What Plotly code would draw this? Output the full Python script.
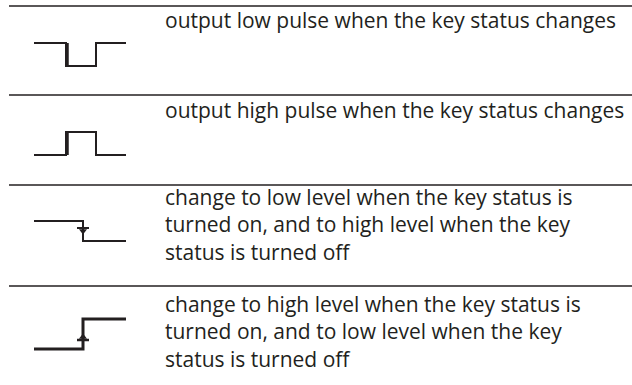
import plotly.graph_objects as go

W, H = 632, 385

# Row separator lines (y positions, px from top)
separator_y = [6, 95, 185, 286]
sep_x = [9, 632]

# Descriptions
descriptions = [
    "output low pulse when the key status changes",
    "output high pulse when the key status changes",
    "change to low level when the key status is<br>turned on, and to high level when the key<br>status is turned off",
    "change to high level when the key status is<br>turned on, and to low level when the key<br>status is turned off",
]
desc_y = [20, 110, 224, 331]
desc_x = 163

# Waveform icons (x, y in px)
wave1_x = [34, 66, 66, 96, 96, 126]
wave1_y = [43, 43, 66, 66, 43, 43]
wave2_x = [34, 66, 66, 96, 96, 126]
wave2_y = [155, 155, 132, 132, 155, 155]
wave3_x = [34, 83, 83, 126]
wave3_y = [221, 221, 241, 241]
wave4_x = [34, 83, 83, 126]
wave4_y = [349, 349, 319, 319]

# Thick edges
edge1_x = [67, 67]; edge1_y = [43, 66]
edge2_x = [67, 67]; edge2_y = [132, 155]

# Key markers
tick3_x = [77, 89]; tick3_y = [228, 228]
mark3_x = [83]; mark3_y = [231]
tick4_x = [77, 89]; tick4_y = [340, 340]
mark4_x = [83]; mark4_y = [337]

C = "#231f20"

fig = go.Figure()

def line(x, y, w):
    fig.add_trace(go.Scatter(x=x, y=y, mode="lines",
                             line=dict(color=C, width=w, shape="linear"),
                             hoverinfo="skip", showlegend=False))

for yy in separator_y:
    line(sep_x, [yy, yy], 1.5)

line(wave1_x, wave1_y, 2)
line(edge1_x, edge1_y, 3.5)
line(wave2_x, wave2_y, 2)
line(edge2_x, edge2_y, 3.5)
line(wave3_x, wave3_y, 2)
line(tick3_x, tick3_y, 2)
line(wave4_x, wave4_y, 3)
line(tick4_x, tick4_y, 2.5)

fig.add_trace(go.Scatter(x=mark3_x, y=mark3_y, mode="markers",
                         marker=dict(symbol="triangle-down", size=7, color=C),
                         hoverinfo="skip", showlegend=False))
fig.add_trace(go.Scatter(x=mark4_x, y=mark4_y, mode="markers",
                         marker=dict(symbol="triangle-up", size=7, color=C),
                         hoverinfo="skip", showlegend=False))

for txt, yy in zip(descriptions, desc_y):
    fig.add_annotation(x=desc_x, y=yy, text=txt, showarrow=False,
                       xanchor="left", yanchor="middle", align="left",
                       xref="x", yref="y",
                       font=dict(family="Open Sans", size=21, color=C))

fig.update_layout(
    width=W, height=H,
    margin=dict(l=0, r=0, t=0, b=0),
    paper_bgcolor="white", plot_bgcolor="white",
    xaxis=dict(range=[0, W], visible=False, fixedrange=True),
    yaxis=dict(range=[H, 0], visible=False, fixedrange=True),
)

fig.write_html("out.html", config={"displayModeBar": False},
               post_script="document.body.style.margin='0';document.body.style.overflow='hidden';")
